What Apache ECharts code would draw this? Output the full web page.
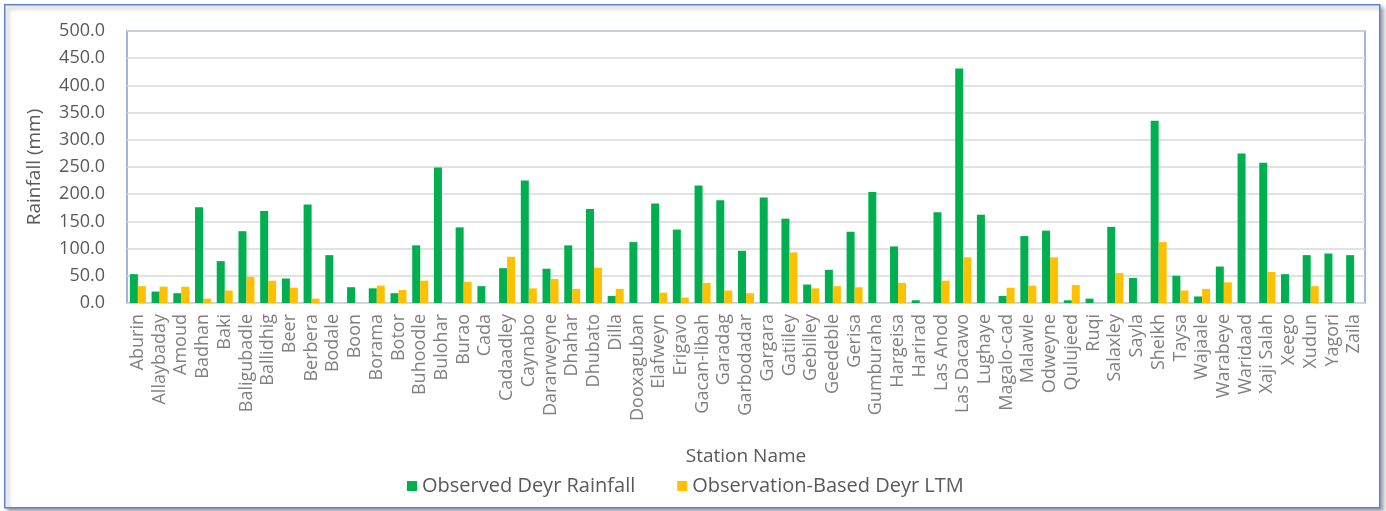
<!DOCTYPE html>
<html>
<head>
<meta charset="utf-8">
<script src="https://cdn.jsdelivr.net/npm/echarts@6/dist/echarts.min.js"></script>
<style>
  html, body { margin: 0; padding: 0; background: #ffffff; }
  #chart { width: 1386px; height: 511px; }
</style>
</head>
<body>
<div id="chart"></div>
<script>
// Deyr season rainfall per station (mm)
const stations = [
  'Aburin', 'Allaybaday', 'Amoud', 'Badhan', 'Baki', 'Baligubadle', 'Ballidhig', 'Beer',
  'Berbera', 'Bodale', 'Boon', 'Borama', 'Botor', 'Buhoodle', 'Bulohar', 'Burao', 'Cada',
  'Cadaadley', 'Caynabo', 'Dararweyne', 'Dhahar', 'Dhubato', 'Dilla', 'Dooxaguban',
  'Elafweyn', 'Erigavo', 'Gacan-libah', 'Garadag', 'Garbodadar', 'Gargara', 'Gatiiley',
  'Gebilley', 'Geedeble', 'Gerisa', 'Gumburaha', 'Hargeisa', 'Harirad', 'Las Anod',
  'Las Dacawo', 'Lughaye', 'Magalo-cad', 'Malawle', 'Odweyne', 'Qulujeed', 'Ruqi',
  'Salaxley', 'Sayla', 'Sheikh', 'Taysa', 'Wajaale', 'Warabeye', 'Waridaad', 'Xaji Salah',
  'Xeego', 'Xudun', 'Yagori', 'Zaila'
];

const observedDeyr = [
  53, 21, 18, 176, 77, 132, 169, 45,
  181, 88, 29, 27, 18, 106, 249, 139, 31,
  64, 225, 63, 106, 173, 13, 112,
  183, 135, 216, 189, 96, 194, 155,
  34, 61, 131, 204, 104, 5, 167,
  431, 162, 13, 123, 133, 5, 8,
  140, 46, 335, 50, 12, 67, 275, 258,
  53, 88, 91, 88
];

const ltmDeyr = [
  31, 30, 30, 8, 23, 48, 41, 28,
  8, 0, 0, 32, 24, 41, 0, 39, 0,
  85, 27, 44, 26, 65, 26, 0,
  19, 10, 37, 23, 18, 0, 93,
  27, 31, 29, 0, 37, 0, 41,
  84, 0, 28, 32, 84, 33, 0,
  55, 0, 112, 23, 26, 38, 0, 57,
  0, 31, 0, 0
];

const yTicks = { min: 0, max: 500, step: 50 };

const chart = echarts.init(document.getElementById('chart'), null, { renderer: 'canvas' });

const labelFont = '"Open Sans", "DejaVu Sans", sans-serif';

chart.setOption({
  backgroundColor: '#ffffff',
  animation: false,
  textStyle: { fontFamily: labelFont },
  graphic: [{
    type: 'rect',
    left: 4, top: 4,
    shape: { width: 1375, height: 503 },
    style: {
      fill: '#ffffff',
      stroke: '#5f83c9',
      lineWidth: 1.5,
      shadowBlur: 4,
      shadowOffsetX: 3,
      shadowOffsetY: 3,
      shadowColor: 'rgba(0,0,0,0.35)'
    },
    z: -10
  }],
  grid: {
    left: 127, right: 21, top: 31, bottom: 208,
    show: true,
    borderColor: '#7f9fd9',
    borderWidth: 1.5,
    backgroundColor: 'transparent'
  },
  legend: {
    top: 471,
    left: 402,
    itemWidth: 10,
    itemHeight: 10,
    itemGap: 42,
    icon: 'rect',
    textStyle: { fontSize: 20, color: '#595959', fontFamily: labelFont },
    data: ['Observed Deyr Rainfall', 'Observation-Based Deyr LTM']
  },
  xAxis: {
    type: 'category',
    data: stations,
    name: 'Station Name',
    nameLocation: 'middle',
    nameGap: 144,
    nameTextStyle: { fontSize: 19, color: '#595959' },
    axisTick: { show: false },
    axisLine: { show: true, lineStyle: { color: '#d9d9d9' } },
    axisLabel: {
      interval: 0,
      rotate: 90,
      margin: 11,
      fontSize: 18,
      color: '#808080',
      fontFamily: labelFont
    }
  },
  yAxis: {
    type: 'value',
    min: yTicks.min,
    max: yTicks.max,
    interval: yTicks.step,
    name: 'Rainfall (mm)',
    nameLocation: 'middle',
    nameGap: 83,
    nameTextStyle: { fontSize: 19, color: '#595959' },
    axisLine: { show: false },
    axisTick: { show: false },
    axisLabel: {
      fontSize: 18,
      color: '#595959',
      margin: 22,
      formatter: v => v.toFixed(1)
    },
    splitLine: { lineStyle: { color: '#d9d9d9', width: 1.5 } }
  },
  series: [
    {
      name: 'Observed Deyr Rainfall',
      type: 'bar',
      data: observedDeyr,
      barWidth: 8,
      barGap: '0%',
      itemStyle: { color: '#00b050' }
    },
    {
      name: 'Observation-Based Deyr LTM',
      type: 'bar',
      data: ltmDeyr,
      barWidth: 8,
      itemStyle: { color: '#ffc000' }
    }
  ]
});
</script>
</body>
</html>
